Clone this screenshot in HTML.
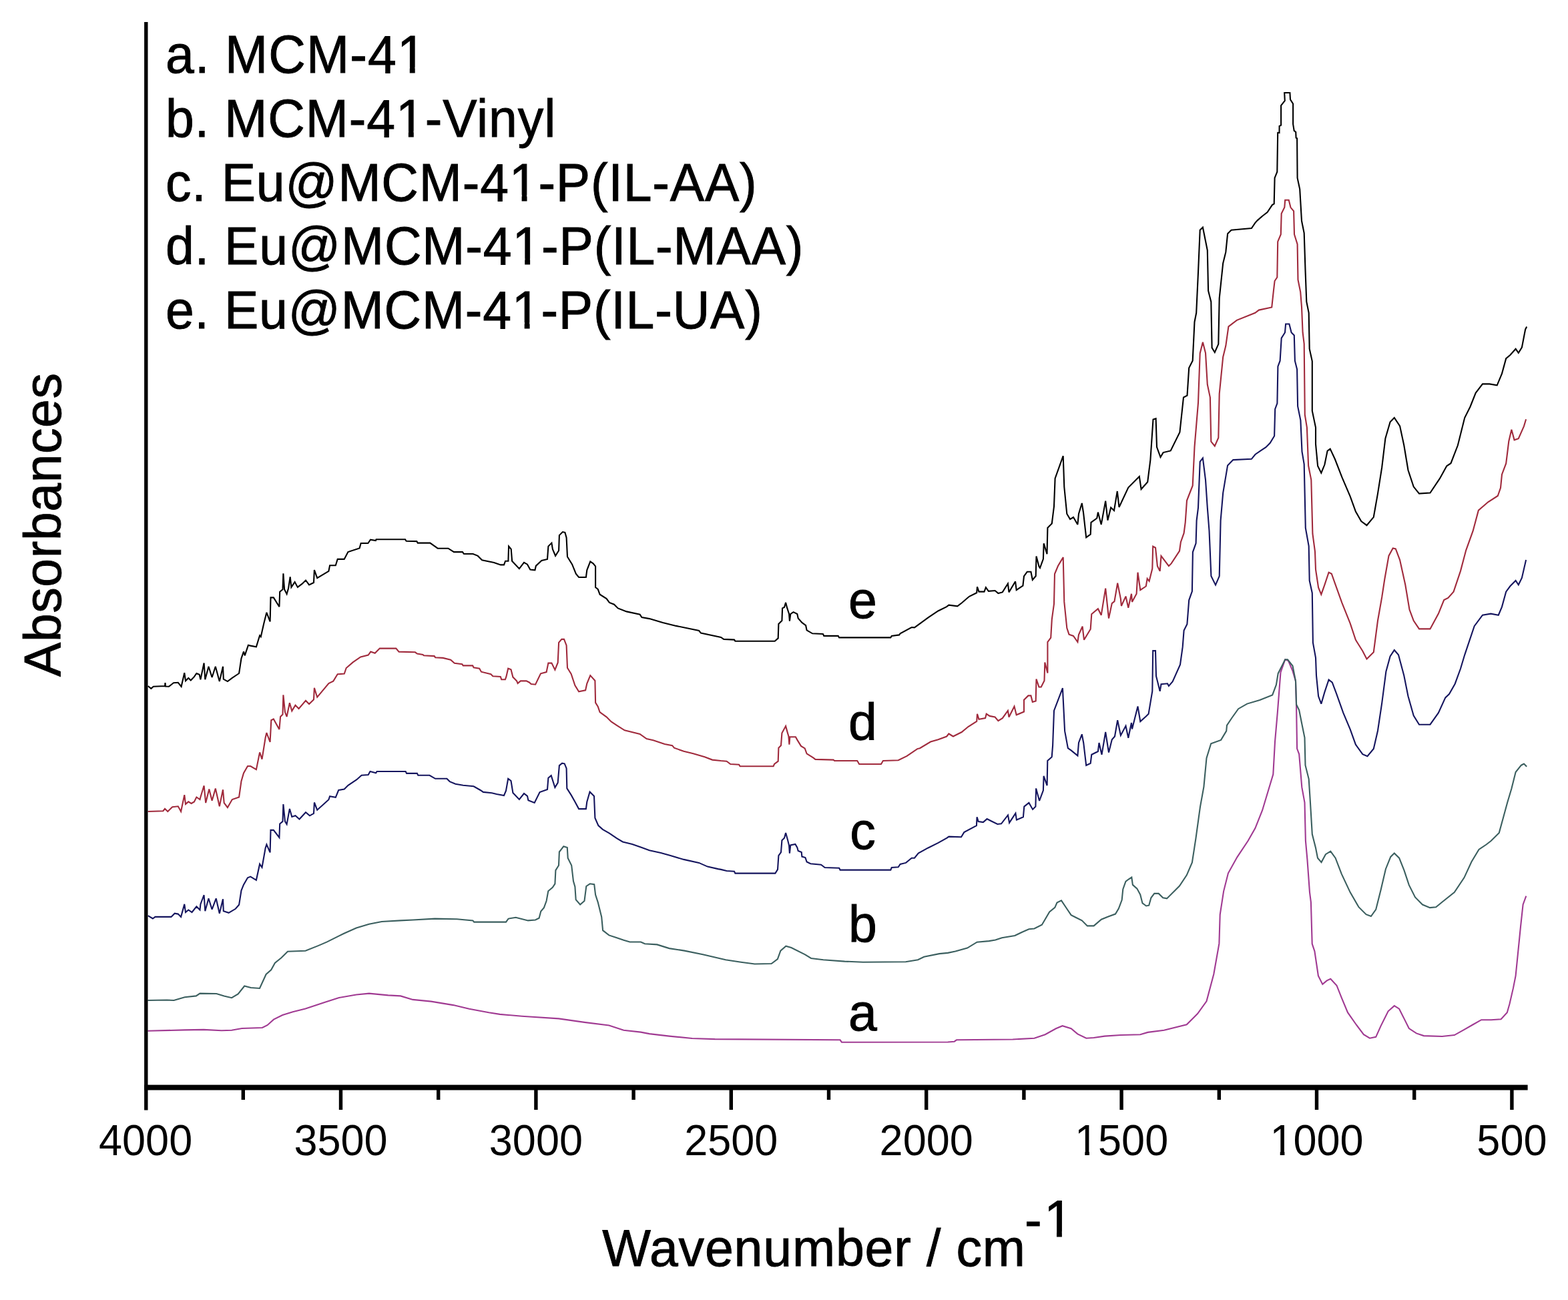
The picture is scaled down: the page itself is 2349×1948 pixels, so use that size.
<!DOCTYPE html>
<html><head><meta charset="utf-8"><title>FTIR spectra</title>
<style>
html,body{margin:0;padding:0;background:#fff;}
body{width:2349px;height:1948px;overflow:hidden;}
svg{display:block;}
text{font-family:"Liberation Sans",Arial,sans-serif;fill:#000;stroke:#000;stroke-width:0.9px;}
.tl{font-size:63px;stroke-width:0;}
.lg{font-size:77px;}
</style></head><body>
<svg width="2349" height="1948" viewBox="0 0 2349 1948">
<rect width="2349" height="1948" fill="#ffffff"/>
<path d="M221.4,1544.8 L276.7,1543.4 L305.2,1542.9 L331.9,1544.2 L347.1,1543.8 L362.4,1541.0 L392.9,1540.0 L400.5,1536.2 L410.0,1527.6 L423.3,1521.0 L438.6,1516.2 L457.6,1511.4 L486.2,1501.9 L507.1,1495.2 L533.8,1490.5 L552.9,1488.6 L581.4,1491.4 L600.0,1492.4 L618.4,1497.9 L645.9,1500.6 L679.0,1506.1 L702.9,1511.7 L732.3,1517.2 L748.8,1519.9 L781.9,1522.7 L837.0,1526.4 L875.5,1531.9 L912.3,1536.5 L934.3,1543.8 L960.0,1546.6 L972.9,1549.1 L1002.6,1552.6 L1036.9,1556.0 L1071.1,1557.1 L1258.6,1558.3 L1260.9,1561.7 L1420.0,1561.5 L1429.7,1560.7 L1433.0,1558.3 L1517.2,1557.5 L1549.5,1555.8 L1565.7,1550.2 L1581.9,1541.3 L1591.6,1537.2 L1604.6,1541.3 L1614.3,1549.4 L1627.3,1555.8 L1638.6,1555.0 L1654.8,1552.6 L1679.1,1551.0 L1708.2,1550.2 L1719.5,1546.9 L1743.8,1543.7 L1777.8,1535.3 L1794.0,1519.1 L1807.5,1500.3 L1818.3,1459.8 L1826.4,1413.9 L1827.7,1370.7 L1833.1,1335.6 L1839.9,1308.6 L1853.4,1284.3 L1869.6,1260.0 L1880.4,1241.1 L1891.1,1214.2 L1899.2,1187.2 L1907.3,1160.2 L1910.0,1111.6 L1913.8,1067.9 L1918.5,1007.3 L1925.2,988.3 L1930.0,990.0 L1936.5,1005.4 L1941.0,1020.6 L1942.1,1059.9 L1943.1,1121.9 L1946.2,1130.1 L1950.3,1179.7 L1954.5,1202.5 L1955.9,1260.0 L1958.4,1287.6 L1962.0,1337.1 L1963.9,1351.8 L1965.7,1414.3 L1969.4,1425.3 L1974.9,1462.1 L1981.3,1474.9 L1987.8,1469.4 L1993.3,1466.7 L2002.5,1476.7 L2009.8,1495.1 L2019.0,1517.2 L2031.8,1535.5 L2042.9,1550.2 L2052.0,1555.7 L2061.2,1553.9 L2068.6,1537.4 L2079.6,1515.3 L2088.8,1507.1 L2096.1,1511.7 L2103.5,1526.4 L2110.8,1541.0 L2121.9,1548.4 L2132.9,1552.1 L2160.4,1553.0 L2178.8,1551.1 L2193.5,1542.9 L2206.3,1535.5 L2219.2,1528.2 L2233.9,1528.2 L2248.6,1527.3 L2257.8,1517.2 L2261.5,1504.3 L2267.0,1480.4 L2270.6,1462.1 L2274.3,1425.3 L2278.0,1388.6 L2281.6,1355.5 L2286.3,1342.7" fill="none" stroke="#a03a92" stroke-width="2.1" stroke-linejoin="miter" stroke-miterlimit="3"/>
<path d="M221.4,1499.0 L250.0,1498.5 L260.5,1499.0 L276.7,1494.3 L293.8,1492.4 L299.5,1488.6 L324.3,1489.0 L335.7,1492.4 L347.1,1495.2 L356.7,1489.5 L366.2,1477.5 L375.7,1480.0 L389.0,1481.0 L398.6,1460.0 L406.2,1453.3 L411.9,1442.9 L421.4,1435.2 L431.0,1425.7 L457.6,1424.8 L476.7,1417.1 L490.0,1411.4 L514.8,1399.0 L533.8,1390.5 L552.9,1384.8 L571.9,1381.0 L600.0,1379.4 L618.4,1378.5 L651.4,1376.6 L684.5,1377.2 L708.4,1379.4 L710.2,1381.6 L758.0,1381.6 L761.6,1376.6 L772.7,1374.8 L791.0,1379.4 L802.0,1378.5 L807.6,1375.7 L810.3,1365.6 L814.9,1360.1 L818.6,1350.0 L821.3,1335.3 L827.8,1329.8 L831.4,1324.3 L832.4,1304.1 L837.0,1296.7 L837.9,1276.5 L844.3,1268.3 L849.8,1270.1 L850.7,1285.7 L856.2,1296.7 L859.0,1320.6 L861.4,1328.6 L862.7,1348.2 L869.1,1355.5 L875.5,1350.0 L878.3,1328.0 L883.8,1324.3 L890.2,1325.2 L892.1,1340.8 L895.7,1351.8 L901.2,1373.9 L903.1,1394.1 L912.3,1401.4 L923.3,1405.1 L934.3,1408.8 L943.5,1411.5 L960.0,1411.5 L966.0,1414.3 L984.3,1415.4 L1002.6,1421.1 L1025.4,1424.6 L1052.9,1430.3 L1087.1,1438.3 L1110.0,1441.7 L1130.6,1444.5 L1155.7,1444.0 L1164.9,1437.1 L1169.4,1424.6 L1177.4,1417.7 L1185.4,1420.0 L1206.0,1430.3 L1215.1,1436.0 L1233.4,1438.3 L1265.4,1440.6 L1292.9,1441.7 L1356.9,1441.3 L1375.1,1438.3 L1384.3,1433.7 L1407.1,1429.1 L1420.0,1427.9 L1431.3,1425.5 L1449.1,1420.6 L1463.7,1411.7 L1481.5,1410.1 L1491.2,1408.5 L1501.0,1405.2 L1520.4,1402.0 L1530.1,1397.2 L1541.4,1392.3 L1549.5,1391.5 L1560.9,1385.8 L1572.2,1366.4 L1580.3,1359.9 L1583.5,1352.6 L1590.0,1349.4 L1598.1,1361.5 L1604.6,1371.2 L1611.1,1374.5 L1620.8,1379.3 L1628.9,1387.4 L1638.6,1387.4 L1649.9,1377.7 L1659.6,1373.7 L1671.0,1369.6 L1675.8,1361.5 L1680.7,1348.6 L1682.3,1332.4 L1686.4,1321.0 L1690.4,1317.8 L1695.3,1314.6 L1696.9,1325.9 L1703.4,1331.6 L1708.2,1340.5 L1711.5,1353.4 L1717.1,1357.5 L1721.2,1356.7 L1724.4,1345.3 L1729.3,1338.9 L1735.7,1338.9 L1742.2,1345.3 L1748.1,1346.4 L1767.0,1327.5 L1777.8,1311.3 L1785.9,1292.4 L1791.3,1257.3 L1798.0,1208.8 L1803.4,1179.1 L1807.5,1135.9 L1814.2,1114.3 L1829.1,1108.9 L1837.2,1095.4 L1838.0,1086.8 L1845.6,1075.5 L1855.1,1062.2 L1868.3,1054.6 L1887.3,1048.9 L1906.2,1041.4 L1911.9,1026.2 L1914.7,1009.2 L1921.4,995.9 L1925.2,988.3 L1929.0,988.3 L1936.5,997.8 L1941.0,1020.6 L1942.1,1055.7 L1946.2,1064.0 L1950.3,1084.7 L1954.5,1105.3 L1955.5,1146.7 L1960.7,1167.3 L1962.7,1198.3 L1965.8,1250.0 L1971.0,1270.6 L1974.0,1285.7 L1979.5,1292.1 L1985.9,1280.2 L1993.3,1275.6 L2000.6,1285.7 L2009.8,1309.6 L2022.7,1337.1 L2035.5,1359.2 L2046.5,1370.2 L2053.9,1373.0 L2061.2,1362.9 L2068.6,1333.5 L2075.9,1302.2 L2083.3,1283.9 L2088.8,1278.4 L2096.1,1285.7 L2103.5,1304.1 L2110.8,1326.1 L2120.0,1344.5 L2131.0,1355.5 L2142.1,1360.1 L2151.2,1359.2 L2160.4,1351.8 L2178.8,1337.1 L2193.5,1315.1 L2204.5,1291.2 L2215.5,1272.9 L2226.6,1265.5 L2233.4,1260.3 L2245.8,1247.9 L2252.0,1225.2 L2258.2,1202.5 L2264.4,1181.8 L2270.6,1157.0 L2278.9,1146.7 L2283.0,1144.6 L2287.2,1148.7" fill="none" stroke="#3b5f5f" stroke-width="2.1" stroke-linejoin="miter" stroke-miterlimit="3"/>
<path d="M221.7,1372.1 L228.9,1376.5 L232.4,1373.9 L256.5,1373.9 L261.7,1368.7 L266.8,1369.6 L271.1,1373.9 L276.3,1354.9 L278.0,1367.0 L282.3,1363.5 L287.5,1367.0 L294.4,1358.4 L299.5,1363.5 L300.4,1354.9 L305.6,1341.2 L307.3,1365.3 L312.5,1346.3 L317.6,1362.7 L323.7,1346.3 L328.8,1368.7 L334.0,1347.2 L334.8,1365.3 L342.6,1367.8 L352.9,1361.8 L358.1,1355.8 L361.5,1334.3 L365.0,1325.7 L371.0,1315.3 L375.3,1313.6 L383.9,1318.8 L389.1,1294.7 L392.5,1299.8 L397.7,1270.5 L399.4,1265.4 L404.6,1277.4 L405.5,1243.9 L409.8,1243.9 L418.4,1255.0 L419.2,1234.4 L423.5,1230.9 L424.4,1205.1 L427.0,1230.9 L429.6,1235.2 L433.9,1212.0 L437.3,1224.0 L442.5,1222.3 L448.5,1227.5 L458.0,1217.2 L464.0,1222.3 L470.0,1218.9 L470.9,1202.5 L475.2,1213.7 L492.4,1198.2 L494.1,1193.1 L502.8,1194.8 L507.2,1184.0 L515.8,1182.6 L521.5,1176.8 L534.4,1168.2 L541.6,1161.8 L551.7,1161.0 L554.5,1156.0 L563.2,1158.2 L564.6,1156.0 L607.7,1156.0 L609.1,1158.9 L624.9,1158.9 L626.3,1161.8 L643.5,1161.8 L652.1,1166.8 L669.4,1166.8 L673.7,1171.1 L682.3,1174.7 L693.8,1176.8 L709.6,1178.3 L719.6,1184.0 L723.9,1186.9 L736.8,1188.3 L744.0,1190.0 L755.0,1192.0 L758.0,1185.0 L761.2,1166.8 L765.5,1170.0 L768.4,1188.0 L777.9,1198.0 L785.0,1189.0 L790.0,1192.9 L791.4,1199.3 L800.7,1202.9 L808.6,1187.1 L820.0,1182.9 L821.4,1165.7 L825.7,1162.1 L831.4,1180.0 L835.7,1172.9 L837.9,1147.1 L842.1,1143.6 L845.7,1144.3 L848.6,1151.4 L849.3,1181.4 L855.7,1191.4 L861.4,1201.4 L867.1,1212.1 L877.9,1212.1 L879.3,1201.4 L883.6,1186.4 L890.0,1192.9 L891.4,1225.7 L896.4,1237.1 L902.9,1242.9 L912.9,1248.6 L924.3,1256.4 L932.9,1261.4 L947.1,1265.0 L961.4,1270.0 L972.9,1274.3 L990.0,1277.9 L1004.3,1282.1 L1024.3,1287.9 L1047.1,1292.9 L1060.0,1298.6 L1075.7,1302.1 L1080.0,1302.9 L1088.6,1305.0 L1100.0,1305.7 L1101.4,1308.6 L1161.4,1308.6 L1165.0,1302.9 L1166.4,1282.1 L1170.0,1277.1 L1171.4,1259.3 L1175.0,1255.7 L1177.1,1247.9 L1180.0,1258.6 L1182.1,1267.1 L1182.9,1278.6 L1184.3,1266.4 L1191.4,1265.0 L1194.3,1270.0 L1195.7,1275.0 L1200.7,1277.1 L1201.4,1283.6 L1206.4,1285.0 L1208.6,1291.4 L1214.3,1294.3 L1230.0,1295.7 L1235.7,1300.0 L1257.1,1300.7 L1258.6,1303.6 L1334.3,1303.6 L1335.7,1300.0 L1345.7,1299.3 L1348.6,1295.0 L1357.1,1292.9 L1365.7,1285.7 L1370.0,1285.7 L1375.7,1278.6 L1390.0,1270.7 L1405.7,1262.9 L1418.6,1255.7 L1421.4,1253.6 L1440.0,1254.3 L1444.3,1247.1 L1462.9,1237.1 L1463.6,1224.3 L1465.7,1231.0 L1472.9,1232.1 L1478.6,1227.1 L1484.3,1230.0 L1494.3,1235.0 L1500.0,1234.3 L1510.0,1221.4 L1512.1,1232.9 L1521.4,1218.6 L1522.9,1228.6 L1532.9,1224.3 L1534.3,1208.6 L1541.4,1202.9 L1547.1,1212.9 L1551.4,1208.6 L1552.1,1181.4 L1557.1,1200.0 L1562.9,1184.3 L1563.6,1162.9 L1568.6,1177.1 L1569.3,1140.0 L1575.7,1134.3 L1577.1,1117.1 L1579.0,1064.9 L1591.9,1031.1 L1595.1,1095.4 L1599.9,1121.2 L1604.6,1124.4 L1614.4,1132.4 L1616.0,1113.0 L1620.8,1100.3 L1623.2,1113.0 L1627.2,1146.9 L1633.7,1143.7 L1635.3,1130.8 L1644.9,1126.0 L1646.5,1113.1 L1650.5,1130.8 L1656.2,1097.0 L1661.0,1127.6 L1665.8,1108.3 L1670.0,1103.5 L1674.2,1079.2 L1678.9,1102.0 L1686.5,1087.8 L1690.3,1105.8 L1695.0,1083.0 L1696.0,1092.5 L1704.5,1058.4 L1708.3,1081.1 L1716.8,1073.6 L1720.6,1069.8 L1726.3,1035.7 L1727.2,975.1 L1731.0,975.1 L1732.0,1013.0 L1737.7,1035.7 L1739.5,1025.3 L1749.0,1024.3 L1750.9,1028.0 L1756.6,1021.5 L1768.0,995.9 L1771.7,969.4 L1773.6,944.8 L1778.4,935.3 L1781.2,899.3 L1785.9,886.1 L1786.9,827.3 L1791.6,814.1 L1792.6,780.0 L1795.0,760.8 L1797.7,691.9 L1801.9,686.4 L1806.0,719.0 L1808.8,760.8 L1811.5,795.2 L1814.4,863.3 L1821.0,876.6 L1826.7,863.3 L1828.6,780.0 L1832.2,738.7 L1839.1,697.4 L1847.3,689.1 L1874.9,687.8 L1880.4,681.0 L1890.0,674.4 L1896.4,670.2 L1902.7,663.8 L1909.1,653.2 L1910.2,612.9 L1913.4,604.4 L1914.4,549.2 L1917.6,540.7 L1919.7,506.7 L1925.0,498.2 L1926.1,485.5 L1931.4,485.5 L1934.6,498.2 L1938.8,502.5 L1939.9,540.7 L1943.1,553.4 L1944.1,608.6 L1948.4,629.9 L1950.5,676.6 L1953.7,695.7 L1955.8,791.2 L1960.7,818.4 L1961.7,870.0 L1965.8,888.7 L1966.9,963.0 L1971.0,985.5 L1972.0,1012.3 L1975.1,1043.3 L1979.3,1054.7 L1984.4,1037.1 L1990.6,1018.5 L1995.8,1022.7 L2002.0,1039.2 L2012.3,1068.1 L2022.7,1092.9 L2030.9,1115.7 L2041.3,1130.1 L2048.5,1133.2 L2057.8,1121.9 L2064.0,1095.0 L2070.2,1053.7 L2076.4,1006.1 L2082.6,983.4 L2088.8,974.1 L2095.0,981.3 L2103.3,1012.3 L2109.5,1043.3 L2117.7,1072.3 L2126.0,1085.7 L2142.5,1085.7 L2154.9,1068.1 L2165.3,1045.4 L2171.0,1040.0 L2179.7,1024.7 L2188.0,1002.0 L2194.2,981.3 L2208.7,938.2 L2221.0,921.7 L2233.4,919.6 L2244.8,921.7 L2250.0,909.3 L2256.2,886.6 L2262.4,878.3 L2270.6,870.0 L2274.8,876.3 L2279.9,865.9 L2286.1,839.1" fill="none" stroke="#15155e" stroke-width="2.1" stroke-linejoin="miter" stroke-miterlimit="3"/>
<path d="M221.7,1216.0 L244.4,1215.2 L247.0,1211.8 L251.3,1216.0 L258.2,1209.2 L266.8,1208.3 L271.1,1216.0 L276.3,1191.1 L278.0,1204.9 L282.3,1201.4 L286.6,1204.0 L290.9,1201.4 L294.4,1194.5 L299.5,1198.0 L300.4,1194.5 L305.6,1177.3 L308.2,1203.1 L313.3,1182.5 L317.6,1199.7 L322.8,1181.6 L328.8,1208.3 L334.0,1183.3 L335.7,1203.1 L340.9,1210.0 L347.8,1198.0 L358.1,1194.5 L361.5,1170.4 L365.0,1158.4 L371.0,1148.0 L375.3,1148.0 L383.9,1153.2 L389.1,1127.4 L392.5,1137.7 L397.7,1105.0 L399.4,1098.1 L404.6,1111.9 L406.3,1079.2 L409.8,1077.4 L418.4,1092.9 L420.1,1074.0 L423.5,1070.5 L424.4,1041.3 L427.0,1067.0 L429.6,1074.0 L433.9,1053.3 L437.3,1065.4 L442.5,1056.8 L447.6,1061.9 L458.0,1049.9 L463.1,1055.0 L470.0,1048.2 L470.9,1030.9 L475.2,1044.7 L492.4,1024.0 L499.3,1020.6 L505.7,1010.3 L515.8,1009.6 L518.7,1001.0 L528.7,992.4 L540.2,984.5 L551.7,981.6 L555.3,976.6 L561.7,978.8 L568.9,971.6 L593.3,971.6 L597.6,976.6 L622.0,977.3 L624.9,979.5 L633.5,980.9 L634.9,982.3 L650.7,983.1 L652.1,985.2 L663.6,985.9 L675.1,988.8 L680.9,993.8 L692.3,995.3 L693.8,997.4 L708.1,997.4 L709.6,1000.3 L718.2,1001.7 L721.0,1006.7 L735.4,1010.3 L738.3,1013.2 L749.8,1013.9 L751.2,1018.2 L756.9,1018.2 L758.4,1013.9 L761.2,1001.7 L765.5,1003.2 L768.4,1014.6 L774.1,1020.4 L775.6,1024.0 L779.9,1020.4 L788.5,1020.4 L792.8,1022.5 L795.7,1025.0 L802.1,1025.7 L810.0,1009.3 L818.6,1007.1 L821.4,993.6 L826.4,993.6 L831.4,1003.6 L835.7,992.9 L837.1,962.9 L841.4,957.9 L845.0,957.9 L848.6,967.1 L850.0,1000.7 L855.7,1010.0 L861.4,1027.1 L867.1,1036.4 L877.1,1034.3 L879.3,1024.3 L884.3,1012.1 L891.4,1020.0 L892.1,1052.9 L895.7,1058.6 L898.6,1067.1 L908.6,1074.3 L915.7,1081.4 L924.3,1087.1 L935.7,1094.3 L958.6,1100.0 L968.6,1107.1 L978.6,1109.3 L995.7,1115.0 L1007.1,1117.1 L1010.0,1120.7 L1024.3,1125.7 L1038.6,1129.3 L1055.7,1134.3 L1067.1,1138.6 L1080.0,1140.0 L1088.6,1140.7 L1094.3,1145.0 L1107.1,1145.7 L1108.6,1148.3 L1158.6,1148.3 L1160.0,1145.0 L1165.7,1140.7 L1166.4,1120.7 L1170.0,1117.1 L1171.4,1098.6 L1177.1,1088.1 L1180.0,1098.6 L1181.4,1103.3 L1182.4,1115.7 L1183.3,1104.3 L1191.9,1104.3 L1194.3,1108.6 L1200.0,1117.9 L1205.7,1121.4 L1208.6,1129.3 L1218.6,1135.7 L1221.4,1137.9 L1248.6,1138.6 L1250.0,1140.0 L1284.3,1140.0 L1287.1,1145.0 L1320.0,1145.0 L1322.9,1140.0 L1345.7,1139.3 L1358.6,1132.9 L1374.3,1122.1 L1378.0,1121.2 L1394.1,1111.5 L1405.4,1108.3 L1418.2,1103.5 L1421.4,1099.5 L1427.9,1103.5 L1440.7,1097.0 L1450.4,1089.0 L1463.2,1081.0 L1464.0,1069.7 L1466.5,1077.7 L1476.1,1076.1 L1477.7,1069.7 L1482.5,1072.9 L1490.6,1074.5 L1495.4,1080.2 L1501.8,1076.1 L1509.9,1064.9 L1511.5,1074.5 L1519.5,1058.5 L1522.7,1071.3 L1534.0,1066.5 L1534.0,1048.8 L1540.4,1042.4 L1544.4,1042.4 L1546.8,1052.0 L1551.7,1050.4 L1552.5,1017.5 L1556.5,1029.5 L1559.7,1029.5 L1564.5,1019.9 L1565.3,992.5 L1569.4,1008.6 L1569.4,962.0 L1574.2,955.6 L1575.8,928.2 L1579.0,905.0 L1580.0,860.0 L1585.0,848.0 L1592.7,835.1 L1594.3,901.9 L1598.3,941.1 L1601.5,950.7 L1608.0,953.0 L1614.4,962.0 L1616.0,951.0 L1621.6,938.7 L1624.0,958.8 L1633.7,942.7 L1635.3,920.2 L1644.9,912.2 L1649.7,921.8 L1656.2,881.6 L1661.0,926.6 L1665.8,904.1 L1669.5,901.2 L1674.2,873.8 L1678.9,897.4 L1679.9,908.0 L1686.5,893.6 L1690.3,910.7 L1695.0,889.8 L1696.0,902.0 L1702.6,889.8 L1704.5,857.7 L1708.3,884.2 L1716.8,878.5 L1718.7,867.0 L1721.6,870.9 L1726.3,852.0 L1727.2,818.8 L1731.0,820.7 L1733.9,848.2 L1737.7,855.8 L1739.5,833.0 L1750.9,848.2 L1754.7,844.4 L1767.0,825.5 L1768.9,812.2 L1773.6,798.9 L1775.7,782.8 L1778.0,750.0 L1786.7,727.7 L1789.5,669.9 L1795.0,603.7 L1797.7,529.4 L1801.9,512.8 L1806.0,529.0 L1808.8,576.2 L1812.9,595.5 L1814.3,661.6 L1819.8,668.5 L1825.3,656.0 L1826.7,590.0 L1832.2,534.9 L1836.3,518.3 L1840.4,489.4 L1852.8,479.8 L1880.4,468.8 L1885.9,464.6 L1905.2,460.5 L1907.9,435.7 L1909.6,421.0 L1913.3,415.5 L1914.2,362.2 L1918.8,351.2 L1919.7,320.0 L1924.3,310.8 L1925.2,299.8 L1930.7,299.8 L1933.5,310.8 L1938.1,316.3 L1939.0,351.2 L1943.6,365.9 L1944.5,419.2 L1948.2,437.5 L1950.0,460.0 L1951.6,498.2 L1953.7,515.2 L1954.8,621.4 L1957.9,640.5 L1960.1,697.8 L1964.3,719.0 L1966.4,799.7 L1970.0,826.7 L1971.0,853.5 L1975.1,880.4 L1979.3,890.7 L1984.4,876.3 L1990.6,857.7 L1994.8,859.7 L1999.9,874.2 L2010.3,903.1 L2022.7,934.1 L2030.9,958.9 L2041.3,975.4 L2047.5,987.5 L2057.8,977.2 L2064.0,930.0 L2070.2,894.9 L2074.3,868.0 L2080.5,832.9 L2086.7,821.5 L2090.8,822.5 L2097.1,839.1 L2105.3,876.3 L2111.5,913.4 L2117.7,930.0 L2126.0,942.4 L2142.5,942.4 L2154.9,919.6 L2163.2,899.0 L2169.4,895.9 L2177.6,886.6 L2188.0,855.6 L2196.2,824.6 L2206.6,795.7 L2214.9,764.7 L2229.3,752.3 L2243.8,743.0 L2248.0,731.0 L2250.0,710.9 L2256.2,694.4 L2260.3,661.3 L2264.4,643.8 L2268.6,659.3 L2274.8,657.2 L2283.0,638.6 L2286.1,628.3" fill="none" stroke="#a02a3c" stroke-width="2.1" stroke-linejoin="miter" stroke-miterlimit="3"/>
<path d="M221.7,1028.0 L226.4,1031.8 L229.8,1028.8 L247.0,1028.0 L247.5,1023.2 L248.0,1028.5 L253.0,1028.8 L260.0,1023.2 L266.8,1022.8 L271.6,1028.8 L276.3,1008.2 L278.0,1020.2 L282.3,1016.0 L285.8,1019.4 L290.9,1014.2 L294.4,1009.0 L298.7,1010.7 L300.4,1018.3 L305.6,993.5 L307.3,1018.3 L312.5,998.7 L317.6,1015.0 L322.8,998.7 L328.8,1021.1 L334.0,998.7 L334.8,1017.6 L340.9,1021.1 L347.8,1015.9 L358.1,1009.0 L361.5,986.6 L365.0,976.3 L366.7,982.3 L371.9,966.8 L375.3,967.6 L383.9,969.4 L389.1,952.2 L390.8,954.0 L395.1,935.0 L399.4,917.8 L404.6,931.5 L405.5,895.4 L409.8,895.4 L418.4,909.2 L419.2,886.8 L423.5,883.3 L424.4,859.2 L426.1,883.3 L429.6,890.2 L432.1,881.6 L434.7,864.4 L436.4,879.9 L441.6,872.1 L445.9,879.9 L452.8,874.7 L458.0,869.5 L463.1,876.4 L470.0,873.0 L470.9,854.0 L475.2,866.1 L492.4,855.8 L494.1,847.2 L502.8,847.2 L505.7,837.9 L515.7,837.9 L521.4,827.1 L538.6,821.4 L540.7,814.0 L551.4,814.0 L555.0,808.6 L562.9,810.0 L563.6,808.3 L607.1,808.3 L608.6,810.7 L624.3,811.1 L625.7,813.6 L644.3,813.6 L655.7,821.7 L671.4,821.7 L680.0,827.1 L692.9,827.1 L695.0,830.0 L708.6,830.0 L715.7,832.9 L722.1,839.3 L740.0,842.9 L750.0,846.4 L755.0,846.4 L757.1,840.7 L761.4,840.7 L762.1,818.6 L765.7,822.9 L767.1,840.7 L777.9,852.1 L785.0,842.9 L790.0,845.7 L794.3,853.6 L801.4,854.3 L802.9,847.9 L811.4,840.0 L820.0,837.9 L821.4,818.6 L826.4,813.6 L827.9,822.9 L832.1,832.9 L837.1,825.0 L837.9,802.1 L842.9,797.1 L846.4,797.9 L848.6,805.7 L850.0,834.3 L857.1,845.7 L862.9,860.0 L867.1,865.0 L877.9,865.0 L879.3,854.3 L884.3,841.4 L888.6,844.3 L892.1,848.6 L892.1,880.0 L895.7,882.9 L898.6,890.7 L908.6,897.1 L912.9,902.9 L920.0,905.7 L925.7,911.4 L938.6,916.4 L958.6,920.7 L961.4,925.0 L972.9,927.1 L992.9,932.9 L1012.9,937.9 L1047.1,945.0 L1050.0,948.6 L1080.0,955.0 L1084.3,957.9 L1100.0,958.6 L1101.4,960.7 L1160.7,960.7 L1165.7,956.4 L1166.4,935.0 L1171.4,930.0 L1172.1,911.4 L1175.0,910.0 L1177.1,902.9 L1179.3,911.4 L1182.1,920.0 L1182.9,930.7 L1184.3,920.0 L1188.6,917.1 L1194.3,920.0 L1195.7,926.4 L1201.4,932.9 L1207.1,937.1 L1208.6,944.3 L1217.1,949.3 L1232.9,950.0 L1234.3,952.9 L1255.7,952.9 L1257.1,955.4 L1334.3,955.4 L1335.7,952.9 L1347.1,951.4 L1348.6,949.3 L1365.7,940.0 L1370.0,940.4 L1390.9,925.2 L1405.4,915.5 L1418.2,909.1 L1421.4,906.7 L1434.3,908.3 L1440.7,903.5 L1452.0,893.8 L1463.2,888.2 L1464.0,879.4 L1466.5,886.6 L1474.5,886.6 L1476.9,880.2 L1480.9,885.8 L1490.6,885.0 L1495.4,889.0 L1501.8,887.4 L1509.9,874.5 L1511.5,887.4 L1521.1,871.3 L1522.7,884.2 L1532.4,877.7 L1534.0,863.3 L1538.8,856.8 L1544.4,856.8 L1546.8,868.9 L1551.7,863.3 L1552.5,833.5 L1556.5,848.8 L1558.0,851.0 L1562.9,837.6 L1563.7,814.2 L1568.5,830.3 L1569.4,790.9 L1575.8,784.5 L1579.0,758.8 L1580.6,717.0 L1592.7,683.2 L1594.3,729.8 L1598.3,770.0 L1603.1,778.1 L1608.0,775.0 L1614.4,786.1 L1616.0,770.0 L1620.8,754.0 L1623.0,768.0 L1627.2,805.4 L1633.7,800.6 L1634.5,782.9 L1643.3,776.5 L1644.9,767.6 L1649.7,786.1 L1656.2,750.7 L1659.4,779.7 L1664.2,760.4 L1669.0,765.0 L1673.8,736.0 L1676.5,760.0 L1690.3,730.5 L1706.8,713.9 L1709.6,733.0 L1719.2,722.2 L1723.4,689.1 L1727.5,628.5 L1731.6,627.2 L1733.0,669.9 L1738.5,685.0 L1742.6,678.1 L1753.7,675.4 L1767.4,647.8 L1773.0,595.5 L1778.5,592.7 L1781.2,551.4 L1786.7,540.4 L1789.5,482.5 L1792.2,468.8 L1795.0,408.2 L1797.7,344.8 L1801.9,340.7 L1808.8,375.1 L1810.1,435.7 L1814.3,452.2 L1815.6,521.1 L1819.8,528.0 L1825.3,515.6 L1826.7,446.7 L1832.2,394.4 L1836.3,377.9 L1839.1,350.3 L1844.6,344.8 L1874.9,342.0 L1880.4,333.8 L1883.9,330.1 L1891.2,323.7 L1898.6,318.1 L1905.9,307.1 L1908.7,305.3 L1909.6,266.7 L1913.3,257.5 L1914.2,198.8 L1916.5,199.0 L1916.6,189.0 L1919.1,187.7 L1919.1,158.0 L1924.8,151.0 L1924.2,139.0 L1932.4,139.0 L1933.0,149.1 L1935.9,153.6 L1937.1,155.5 L1937.1,185.8 L1938.7,195.9 L1941.2,197.8 L1941.6,206.6 L1943.1,207.2 L1943.6,266.7 L1947.2,283.3 L1950.0,331.0 L1953.7,349.4 L1955.5,404.5 L1957.3,452.2 L1960.7,468.9 L1961.7,522.7 L1965.8,541.3 L1965.8,615.7 L1971.0,640.5 L1971.0,665.3 L1974.1,698.3 L1979.3,708.7 L1984.4,696.3 L1988.6,675.6 L1992.7,672.5 L1999.9,688.0 L2010.3,714.9 L2022.7,743.8 L2030.9,766.5 L2039.2,781.0 L2047.5,787.2 L2057.8,774.8 L2064.0,739.6 L2070.2,700.4 L2075.4,657.0 L2082.6,632.2 L2088.8,626.0 L2097.1,638.4 L2103.3,667.3 L2109.5,704.5 L2117.7,729.3 L2126.0,739.6 L2142.5,738.6 L2157.0,716.9 L2167.3,698.3 L2173.5,694.2 L2183.9,667.3 L2194.2,626.0 L2202.5,609.5 L2210.7,588.8 L2221.0,575.4 L2231.4,575.4 L2242.7,577.4 L2250.0,559.9 L2256.2,537.1 L2262.4,532.0 L2270.6,522.7 L2274.8,528.9 L2279.9,520.6 L2285.1,493.7 L2287.2,489.6" fill="none" stroke="#000000" stroke-width="2.1" stroke-linejoin="miter" stroke-miterlimit="3"/>
<rect x="216.1" y="33" width="5.4" height="1630.5" fill="#000"/>
<rect x="216.1" y="1625.6" width="2072.5" height="7.9" fill="#000"/>
<rect x="507.8" y="1630" width="5.4" height="33" fill="#000"/>
<rect x="800.2" y="1630" width="5.4" height="33" fill="#000"/>
<rect x="1092.6" y="1630" width="5.4" height="33" fill="#000"/>
<rect x="1385.0" y="1630" width="5.4" height="33" fill="#000"/>
<rect x="1677.4" y="1630" width="5.4" height="33" fill="#000"/>
<rect x="1969.8" y="1630" width="5.4" height="33" fill="#000"/>
<rect x="2262.2" y="1630" width="5.4" height="33" fill="#000"/>
<rect x="361.6" y="1630" width="5.4" height="18" fill="#000"/>
<rect x="654.0" y="1630" width="5.4" height="18" fill="#000"/>
<rect x="946.4" y="1630" width="5.4" height="18" fill="#000"/>
<rect x="1238.8" y="1630" width="5.4" height="18" fill="#000"/>
<rect x="1531.2" y="1630" width="5.4" height="18" fill="#000"/>
<rect x="1823.6" y="1630" width="5.4" height="18" fill="#000"/>
<rect x="2116.0" y="1630" width="5.4" height="18" fill="#000"/>
<g transform="translate(218.10,1731.00) scale(1,1.035)"><text id="t4000" x="0" y="0" class="tl" text-anchor="middle">4000</text></g>
<g transform="translate(510.50,1731.00) scale(1,1.035)"><text id="t3500" x="0" y="0" class="tl" text-anchor="middle">3500</text></g>
<g transform="translate(802.90,1731.00) scale(1,1.035)"><text id="t3000" x="0" y="0" class="tl" text-anchor="middle">3000</text></g>
<g transform="translate(1095.30,1731.00) scale(1,1.035)"><text id="t2500" x="0" y="0" class="tl" text-anchor="middle">2500</text></g>
<g transform="translate(1387.70,1731.00) scale(1,1.035)"><text id="t2000" x="0" y="0" class="tl" text-anchor="middle">2000</text></g>
<g transform="translate(1680.10,1731.00) scale(1,1.035)"><text id="t1500" x="0" y="0" class="tl" text-anchor="middle">1500</text><rect x="-66.77" y="-7.31" width="11.99" height="9.31" fill="#fff"/><rect x="-48.12" y="-7.31" width="11.65" height="9.31" fill="#fff"/></g>
<g transform="translate(1972.50,1731.00) scale(1,1.035)"><text id="t1000" x="0" y="0" class="tl" text-anchor="middle">1000</text><rect x="-66.77" y="-7.31" width="11.99" height="9.31" fill="#fff"/><rect x="-48.12" y="-7.31" width="11.65" height="9.31" fill="#fff"/></g>
<g transform="translate(2264.90,1731.00) scale(1,1.035)"><text id="t500" x="0" y="0" class="tl" text-anchor="middle">500</text></g>
<g transform="translate(248.00,109.40) scale(1,1.035)"><text id="leg0" x="0" y="0" class="lg" textLength="389.8" lengthAdjust="spacing">a. MCM-41</text><rect x="351.24" y="-8.35" width="14.55" height="10.35" fill="#fff"/><rect x="373.70" y="-8.35" width="14.14" height="10.35" fill="#fff"/></g>
<g transform="translate(248.00,204.95) scale(1,1.035)"><text id="leg1" x="0" y="0" class="lg" textLength="584.3" lengthAdjust="spacing">b. MCM-41-Vinyl</text><rect x="349.30" y="-8.35" width="14.55" height="10.35" fill="#fff"/><rect x="371.76" y="-8.35" width="14.14" height="10.35" fill="#fff"/></g>
<g transform="translate(248.00,300.50) scale(1,1.035)"><text id="leg2" x="0" y="0" class="lg" textLength="885.7" lengthAdjust="spacing">c. Eu@MCM-41-P(IL-AA)</text><rect x="519.05" y="-8.35" width="14.55" height="10.35" fill="#fff"/><rect x="541.51" y="-8.35" width="14.14" height="10.35" fill="#fff"/></g>
<g transform="translate(248.00,396.05) scale(1,1.035)"><text id="leg3" x="0" y="0" class="lg" textLength="955.5" lengthAdjust="spacing">d. Eu@MCM-41-P(IL-MAA)</text><rect x="523.66" y="-8.35" width="14.55" height="10.35" fill="#fff"/><rect x="546.12" y="-8.35" width="14.14" height="10.35" fill="#fff"/></g>
<g transform="translate(248.00,491.60) scale(1,1.035)"><text id="leg4" x="0" y="0" class="lg" textLength="893.8" lengthAdjust="spacing">e. Eu@MCM-41-P(IL-UA)</text><rect x="523.12" y="-8.35" width="14.55" height="10.35" fill="#fff"/><rect x="545.58" y="-8.35" width="14.14" height="10.35" fill="#fff"/></g>
<g transform="translate(1292.50,926.00)"><text id="labe" x="0" y="0" class="lg" text-anchor="middle">e</text></g>
<g transform="translate(1292.50,1108.60)"><text id="labd" x="0" y="0" class="lg" text-anchor="middle">d</text></g>
<g transform="translate(1292.50,1271.50)"><text id="labc" x="0" y="0" class="lg" text-anchor="middle">c</text></g>
<g transform="translate(1292.50,1412.00)"><text id="labb" x="0" y="0" class="lg" text-anchor="middle">b</text></g>
<g transform="translate(1292.50,1543.50)"><text id="laba" x="0" y="0" class="lg" text-anchor="middle">a</text></g>
<g transform="translate(902.30,1896.70)"><text id="xt" x="0" y="0" class="lg" textLength="633.6" lengthAdjust="spacing">Wavenumber / cm</text></g>
<g transform="translate(1535.00,1853.40)"><text id="sup" x="0" y="0" class="lg"><tspan dy="1.5">-</tspan><tspan dx="3.5" dy="-1.5">1</tspan></text><rect x="33.42" y="-8.35" width="14.55" height="10.35" fill="#fff"/><rect x="55.87" y="-8.35" width="14.14" height="10.35" fill="#fff"/></g>
<g transform="translate(91.00,1014.00) rotate(-90)"><text id="yt" x="0" y="0" class="lg" textLength="455" lengthAdjust="spacing">Absorbances</text></g>
</svg>
</body></html>
